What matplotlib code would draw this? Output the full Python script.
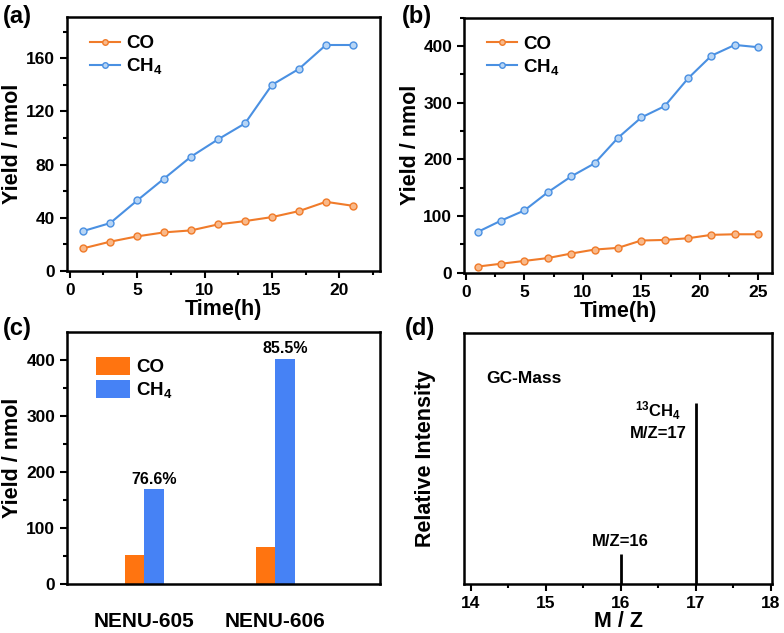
import numpy as np
import matplotlib
matplotlib.use("Agg")
import matplotlib.pyplot as plt
from matplotlib.ticker import MultipleLocator, AutoMinorLocator

plt.rcParams['font.family'] = ['Liberation Sans', 'DejaVu Sans']
plt.rcParams['font.weight'] = 'bold'
plt.rcParams['axes.labelweight'] = 'bold'
plt.rcParams['mathtext.fontset'] = 'custom'
plt.rcParams['mathtext.rm'] = 'Liberation Sans:weight=bold'
plt.rcParams['mathtext.bf'] = 'Liberation Sans:weight=bold'
plt.rcParams['mathtext.it'] = 'Liberation Sans:weight=bold'
plt.rcParams['mathtext.default'] = 'bf'

# (a) NENU-605 time course
time_a = [1, 3, 5, 7, 9, 11, 13, 15, 17, 19, 21]
co_a = [17, 22, 26, 29, 30.5, 35, 37.5, 40.5, 45, 52, 49]
ch4_a = [30, 36, 53, 69.5, 86, 99, 111, 140, 152, 170, 170]

# (b) NENU-606 time course
time_b = [1, 3, 5, 7, 9, 11, 13, 15, 17, 19, 21, 23, 25]
co_b = [11, 16, 21, 26, 34, 41, 44, 57, 58, 61, 67, 68, 68]
ch4_b = [72, 92, 110, 142, 170, 193, 238, 274, 294, 343, 383, 402, 398]

# (c) totals
samples = ['NENU-605', 'NENU-606']
co_tot = [52, 67]
ch4_tot = [170, 402]
selectivity = ['76.6%', '85.5%']

# (d) GC-Mass
mz = [16, 17]
intensity = [0.12, 0.72]

orange = '#F07B2A'
blue = '#4A90E2'
bar_orange = '#FF7410'
bar_blue = '#4682F5'

legend_font = {'weight': 'bold', 'size': 13.5}

fig = plt.figure(figsize=(7.84, 6.33), dpi=100)

def style(ax):
    for s in ax.spines.values():
        s.set_linewidth(1.8)
    ax.tick_params(which='both', direction='out', width=1.5, labelsize=12.5)
    ax.tick_params(which='major', length=5)
    ax.tick_params(which='minor', length=3)
    for lab in ax.get_xticklabels() + ax.get_yticklabels():
        lab.set_fontweight('bold')

def line_panel(rect, t, co, ch4, xlim, ylim, ystep):
    ax = fig.add_axes(rect)
    ax.plot(t, co, '-o', color=orange, lw=1.5, ms=5, mfc='#F9B98A', mec=orange, mew=1, label='CO')
    ax.plot(t, ch4, '-o', color=blue, lw=1.5, ms=5, mfc='#B7D5F5', mec=blue, mew=1, label='CH$_4$')
    ax.set_xlim(*xlim)
    ax.set_ylim(*ylim)
    ax.xaxis.set_major_locator(MultipleLocator(5))
    ax.xaxis.set_minor_locator(AutoMinorLocator(2))
    ax.yaxis.set_major_locator(MultipleLocator(ystep))
    ax.yaxis.set_minor_locator(AutoMinorLocator(2))
    ax.set_xlabel('Time(h)', fontsize=15.5, labelpad=1)
    ax.set_ylabel('Yield / nmol', fontsize=15.5, labelpad=2)
    ax.legend(loc='upper left', bbox_to_anchor=(0.02, 0.995), frameon=False,
              prop=legend_font, handlelength=1.6, handletextpad=0.3, labelspacing=0.2,
              markerscale=0.8)
    style(ax)
    return ax

line_panel([0.0855, 0.572, 0.399, 0.401], time_a, co_a, ch4_a, (-0.2, 23), (0, 191), 40)
line_panel([0.592, 0.569, 0.393, 0.403], time_b, co_b, ch4_b, (-0.15, 26.2), (0, 450), 100)

# (c)
axc = fig.add_axes([0.0855, 0.077, 0.399, 0.398])
x = np.arange(1, len(samples) + 1)
w = 0.15
axc.bar(x - w / 2, co_tot, w, color=bar_orange, label='CO')
bars = axc.bar(x + w / 2, ch4_tot, w, color=bar_blue, label='CH$_4$')
for b, s in zip(bars, selectivity):
    axc.text(b.get_x() + b.get_width() / 2, b.get_height() + 4, s, ha='center', va='bottom',
             fontsize=11.5, fontweight='bold')
axc.set_xlim(0.41, 2.8)
axc.set_ylim(0, 449)
axc.set_xticks(x)
axc.set_xticklabels(samples)
axc.yaxis.set_major_locator(MultipleLocator(100))
axc.yaxis.set_minor_locator(AutoMinorLocator(2))
axc.set_ylabel('Yield / nmol', fontsize=15.5, labelpad=2)
style(axc)
axc.tick_params(axis='x', length=0, pad=20, labelsize=15)
for lab in axc.get_xticklabels():
    lab.set_fontweight('bold')
axc.legend(loc='upper left', bbox_to_anchor=(0.04, 0.97), frameon=False, prop=legend_font,
           handlelength=1.8, handleheight=1.1, handletextpad=0.3, labelspacing=0.2)

# (d)
axd = fig.add_axes([0.592, 0.077, 0.393, 0.397])
axd.vlines(mz, 0, intensity, color='black', lw=2)
axd.set_xlim(13.91, 18.02)
axd.set_ylim(0, 1)
axd.xaxis.set_major_locator(MultipleLocator(1))
axd.xaxis.set_minor_locator(AutoMinorLocator(2))
axd.set_yticks([])
axd.set_xlabel('M / Z', fontsize=15.5, labelpad=0)
axd.set_ylabel('Relative Intensity', fontsize=15.5, labelpad=20)
style(axd)
axd.text(14.2, 0.82, 'GC-Mass', fontsize=12.5, fontweight='bold', va='center')
axd.text(16.5, 0.69, '$^{13}$CH$_4$', fontsize=12, fontweight='bold', ha='center', va='center')
axd.text(16.5, 0.6, 'M/Z=17', fontsize=12, fontweight='bold', ha='center', va='center')
axd.text(16.0, 0.17, 'M/Z=16', fontsize=12, fontweight='bold', ha='center', va='center')

# panel letters
for lx, ly, letter in [(0.004, 0.992, '(a)'), (0.513, 0.992, '(b)'),
                       (0.004, 0.500, '(c)'), (0.516, 0.500, '(d)')]:
    fig.text(lx, ly, letter, fontsize=17, fontweight='bold', va='top', ha='left')

fig.savefig('out.png', dpi=100)
